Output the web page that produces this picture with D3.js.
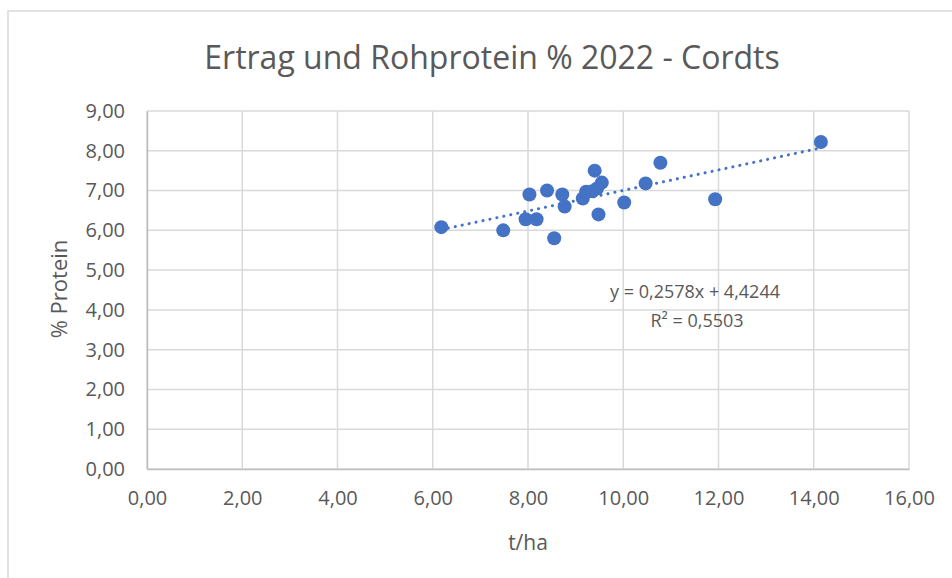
<!DOCTYPE html>
<html><head><meta charset="utf-8">
<script src="https://cdn.jsdelivr.net/npm/d3@7"></script>
<style>
html,body{margin:0;padding:0;background:#fff;}
svg{display:block;font-family:"Open Sans",sans-serif;}
</style></head>
<body><svg id="c" width="952" height="578"></svg>
<script>
const title = "Ertrag und Rohprotein % 2022 - Cordts";
const xLabel = "t/ha";
const yLabel = "% Protein";
const xTicks = [0,2,4,6,8,10,12,14,16];
const yTicks = [0,1,2,3,4,5,6,7,8,9];
const yieldTha = [6.18,7.48,7.95,8.18,8.03,8.40,8.55,8.72,8.77,9.15,9.22,9.35,9.45,9.55,9.40,9.48,10.02,10.47,10.78,11.93,14.15];
const proteinPct = [6.08,6.00,6.28,6.28,6.90,7.00,5.80,6.90,6.60,6.80,6.97,6.98,7.05,7.20,7.50,6.40,6.70,7.18,7.70,6.78,8.22];
const slope = 0.2578, intercept = 4.4244;
const eqText = "y = 0,2578x + 4,4244";
const r2Text = "R² = 0,5503";

const svg = d3.select("#c");
const fmt = v => d3.format(".2f")(v).replace(".", ",");
const x = d3.scaleLinear().domain([0,16]).range([147,909]);
const y = d3.scaleLinear().domain([0,9]).range([469,111]);

// chart border
svg.append("rect").attr("x",8).attr("y",11).attr("width",960).attr("height",600)
  .attr("fill","none").attr("stroke","#d9d9d9").attr("stroke-width",1.5);

svg.append("text").attr("x",492).attr("y",69).attr("text-anchor","middle")
  .attr("font-size",32).attr("fill","#595959").text(title);

// gridlines
svg.append("g").selectAll("line").data(yTicks).join("line")
  .attr("x1",x(0)).attr("x2",x(16)).attr("y1",d=>y(d)).attr("y2",d=>y(d))
  .attr("stroke","#d9d9d9").attr("stroke-width",1.5);
svg.append("g").selectAll("line").data(xTicks).join("line")
  .attr("y1",y(0)).attr("y2",y(9)).attr("x1",d=>x(d)).attr("x2",d=>x(d))
  .attr("stroke","#d9d9d9").attr("stroke-width",1.5);

// axes
const xa = svg.append("g").attr("transform",`translate(0,${y(0)})`)
  .call(d3.axisBottom(x).tickValues(xTicks).tickFormat(fmt).tickSize(0).tickPadding(22));
const ya = svg.append("g").attr("transform",`translate(${x(0)},0)`)
  .call(d3.axisLeft(y).tickValues(yTicks).tickFormat(fmt).tickSize(0).tickPadding(22));
[xa,ya].forEach(a=>{
  a.select(".domain").attr("stroke","#bfbfbf").attr("stroke-width",1.5);
  a.selectAll("text").attr("font-size",20).attr("fill","#595959").attr("font-family","Open Sans");
});

svg.append("text").attr("x",528).attr("y",550).attr("text-anchor","middle")
  .attr("font-size",21).attr("fill","#595959").text(xLabel);
svg.append("text").attr("transform","translate(67,289) rotate(-90)").attr("text-anchor","middle")
  .attr("font-size",22).attr("fill","#595959").text(yLabel);

// trendline
const x0 = d3.min(yieldTha), x1 = d3.max(yieldTha);
svg.append("line").attr("x1",x(x0)).attr("y1",y(slope*x0+intercept))
  .attr("x2",x(x1)).attr("y2",y(slope*x1+intercept))
  .attr("stroke","#4472c4").attr("stroke-width",3).attr("stroke-linecap","round")
  .attr("stroke-dasharray","0.1 7");

// points
svg.append("g").selectAll("circle").data(yieldTha.map((d,i)=>[d,proteinPct[i]])).join("circle")
  .attr("cx",d=>x(d[0])).attr("cy",d=>y(d[1])).attr("r",7).attr("fill","#4472c4");

svg.append("text").attr("x",695).attr("y",298).attr("text-anchor","middle")
  .attr("font-size",18).attr("fill","#595959").text(eqText);
svg.append("text").attr("x",697).attr("y",327).attr("text-anchor","middle")
  .attr("font-size",18).attr("fill","#595959").text(r2Text);
</script></body></html>
